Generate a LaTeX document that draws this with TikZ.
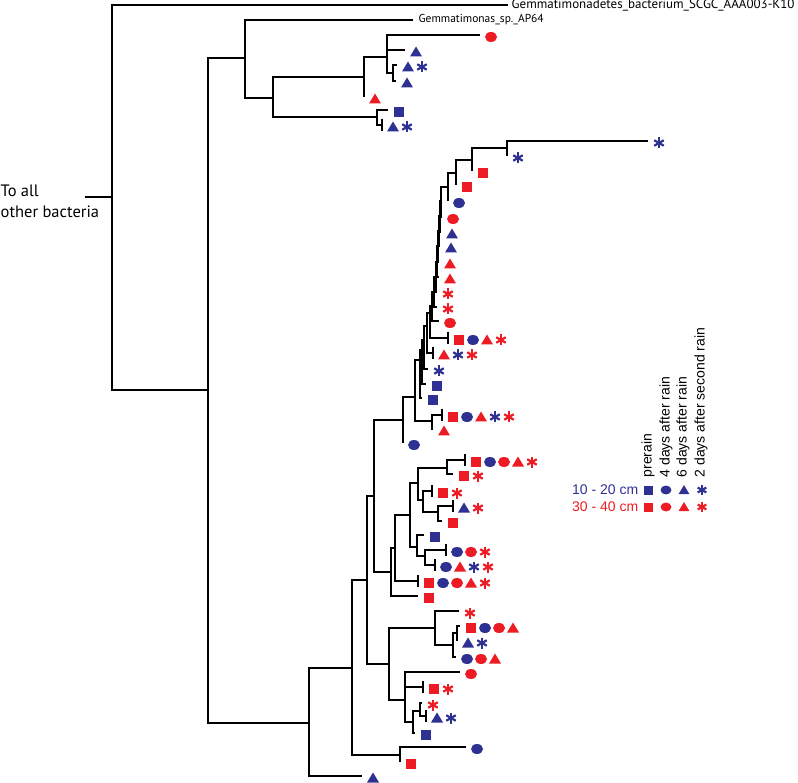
\documentclass[tikz,border=0pt]{standalone}
\usepackage{fontspec}
\setmainfont{PT Sans}
\newfontfamily\legfont{Liberation Sans}
\usepackage{tikz}
\definecolor{bl}{RGB}{46,49,146}
\definecolor{rd}{RGB}{237,28,36}
\tikzstyle{branch}=[line width=1.4pt, black]
\tikzstyle{lab}=[inner sep=0, anchor=west]
\tikzstyle{leg}=[inner sep=0, font=\legfont\fontsize{14}{16}\selectfont]
% sample marks
\newcommand\mksq[1]{\fill[#1] (-5,-5) rectangle (5,5);}
\newcommand\mkci[1]{\fill[#1] (0,0) ellipse (6pt and 5pt);}
\newcommand\mktr[1]{\fill[#1] (0,-5.5) -- (6,4.5) -- (-6,4.5) -- cycle;}
\newcommand\mkst[1]{\foreach \a in {90,30,150}{\draw[#1,line width=2.2pt] (\a:5.5pt) -- (\a+180:5.5pt);}}
% leaf end with its marks
\newcommand\leaf[4]{\coordinate (#1) at (#2,#3);
  \foreach \sh/\cl [count=\i from 0] in {#4}
    {\begin{scope}[shift={(#2+11+14*\i,#3+2)}]\csname mk\sh\endcsname{\cl}\end{scope}}}
\newcommand\tick[4]{\leaf{#1}{#2}{#3}{#4}\draw (#2,#3-6) -- (#2,#3+6);}

\begin{document}
\begin{tikzpicture}[x=1pt,y=-1pt,branch]
\useasboundingbox (0,0) rectangle (798,783);
\node[inner sep=0,anchor=west,align=left,font=\fontsize{16.5}{21}\selectfont] (out) at (0,201) {To all\\other bacteria};
\coordinate (stub) at (85,197);
\coordinate (R) at (112,197);
\coordinate (k10) at (508,5);
\node[lab,font=\fontsize{13}{15}\selectfont] (k10lab) at (511,5) {Gemmatimonadetes\_bacterium\_SCGC\_AAA003-K10};
\coordinate (A) at (208,390);
\coordinate (B) at (245,58);
\coordinate (ap64) at (413,20);
\node[lab,font=\fontsize{11.5}{13}\selectfont] (ap64lab) at (418,20) {Gemmatimonas\_sp.\_AP64};
\coordinate (D) at (273,98);
\coordinate (E) at (364,77);
\coordinate (G) at (387,57);
\coordinate (H) at (393,73);
\coordinate (F) at (377,117);
\leaf{g1}{480}{35}{ci/rd}
\leaf{g2}{405}{50}{tr/bl}
\leaf{h1}{397}{65}{tr/bl,st/bl}
\leaf{h2}{396}{81}{tr/bl}
\leaf{e2}{364}{97}{tr/rd}
\leaf{f1}{388}{110}{sq/bl}
\tick{I}{382}{125}{tr/bl,st/bl}
% lower clade
\coordinate (C) at (309,723);
\coordinate (J) at (352,668);
\coordinate (L) at (400,755);
\coordinate (K) at (367,580);
\coordinate (N) at (389,664);
\coordinate (O) at (435,628);
\coordinate (Q) at (453,645);
\coordinate (Q1) at (457,633);
\coordinate (P) at (405,700);
\coordinate (P2) at (413,722);
\coordinate (P3) at (420,711);
\leaf{c2}{362}{776}{tr/bl}
\leaf{l1}{466}{747}{ci/bl}
\leaf{l2}{400}{762}{sq/rd}
\leaf{o1}{459}{611}{st/rd}
\leaf{q1}{460}{626}{sq/rd,ci/bl,ci/rd,tr/rd}
\leaf{q2}{457}{641}{tr/bl,st/bl}
\leaf{q3}{456}{657}{ci/bl,ci/rd,tr/rd}
\leaf{p1}{460}{672}{ci/rd}
\tick{t1}{423}{687}{sq/rd,st/rd}
\leaf{p3a}{422}{703}{st/rd}
\tick{t2}{426}{716}{tr/bl,st/bl}
\leaf{p2b}{415}{733}{sq/bl}
% middle clade
\coordinate (M) at (374,496);
\coordinate (U) at (403,420);
\coordinate (W) at (415,397);
\coordinate (Y) at (432,421);
\leaf{u2}{403}{443}{ci/bl}
\tick{t3}{442}{415}{sq/rd,ci/bl,tr/rd,st/bl,st/rd}
\leaf{y2}{433}{429}{tr/rd}
\coordinate (cb1) at (507,148);
\coordinate (cb2) at (472,160);
\coordinate (cb3) at (456,173);
\coordinate (cb4) at (448,187);
\coordinate (cb5) at (441,201);
\coordinate (cb6) at (440,216);
\coordinate (cb7) at (439,231);
\coordinate (cb8) at (438,246);
\coordinate (cb9) at (437,262);
\coordinate (cb10) at (436,277);
\coordinate (cb11) at (434,292);
\coordinate (cb12) at (432,306);
\coordinate (cb13) at (430,313);
\coordinate (cb14) at (427,326);
\coordinate (cb15) at (424,340);
\coordinate (cb16) at (422,350);
\coordinate (cb17) at (420,360);
\leaf{s1}{648}{141}{st/bl}
\leaf{s2}{507}{156}{st/bl}
\leaf{s3}{472}{171}{sq/rd}
\leaf{s4}{456}{185}{sq/rd}
\leaf{s5}{448}{201}{ci/bl}
\leaf{s6}{442}{217}{ci/rd}
\leaf{s7}{441}{232}{tr/bl}
\leaf{s8}{440}{246}{tr/bl}
\leaf{s9}{439}{262}{tr/rd}
\leaf{s10}{439}{277}{tr/rd}
\leaf{s11}{437}{292}{st/rd}
\leaf{s12}{437}{307}{st/rd}
\leaf{s13}{439}{321}{ci/rd}
\tick{t5}{448}{338}{sq/rd,ci/bl,tr/rd,st/rd}
\tick{t4}{433}{353}{tr/rd,st/bl,st/rd}
\leaf{s14}{428}{369}{st/bl}
\leaf{s15}{426}{384}{sq/bl}
\leaf{s16}{422}{398}{sq/bl}
\coordinate (V) at (391,572);
\coordinate (V1) at (395,548);
\coordinate (a0) at (410,515);
\coordinate (a1) at (447,468);
\coordinate (a2) at (418,483);
\coordinate (a3) at (423,500);
\coordinate (a4) at (438,512);
\coordinate (a5) at (417,547);
\coordinate (a6) at (425,556);
\leaf{v2}{418}{596}{sq/rd}
\tick{t6}{418}{581}{sq/rd,ci/bl,ci/rd,tr/rd,st/rd}
\tick{ta}{465}{460}{sq/rd,ci/bl,ci/rd,tr/rd,st/rd}
\leaf{a1b}{453}{474}{sq/rd,st/rd}
\tick{tb}{432}{491}{sq/rd,st/rd}
\tick{tc}{453}{506}{tr/bl,st/rd}
\leaf{a4b}{442}{521}{sq/rd}
\leaf{a5a}{424}{535}{sq/bl}
\tick{td}{446}{550}{ci/bl,ci/rd,st/rd}
\tick{te}{435}{565}{ci/bl,tr/rd,st/bl,st/rd}
% branches
\draw (stub) -- (R);
\draw (k10) -| (R) |- (A);
\draw (B) -| (A) |- (C);
\draw (ap64) -| (B) |- (D);
\draw (E) -| (D) |- (F);
\draw (G) -| (E) |- (e2);
\draw (g1) -| (G) |- (H); \draw (G) |- (g2);
\draw (h1) -| (H) |- (h2);
\draw (f1) -| (F) |- (I);
\draw (J) -| (C) |- (c2);
\draw (K) -| (J) |- (L);
\draw (l1) -| (L) |- (l2);
\draw (M) -| (K) |- (N);
\draw (O) -| (N) |- (P);
\draw (o1) -| (O) |- (Q);
\draw (Q1) -| (Q) |- (q3);
\draw (q1) -| (Q1) |- (q2);
\draw (p1) -| (P) |- (P2); \draw (P) |- (t1);
\draw (P3) -| (P2) |- (p2b);
\draw (p3a) -| (P3) |- (t2);
\draw (U) -| (M) |- (V);
\draw (W) -| (U) |- (u2);
\draw (cb17) -| (W) |- (Y);
\draw (t3) -| (Y) |- (y2);
\draw (s1) -| (cb1) |- (s2);
\foreach \p/\q/\r in {cb2/cb1/s3,cb3/cb2/s4,cb4/cb3/s5,cb5/cb4/s6,cb6/cb5/s7,cb7/cb6/s8,
  cb8/cb7/s9,cb9/cb8/s10,cb10/cb9/s11,cb11/cb10/s12,cb12/cb11/s13,cb13/cb12/t5,
  cb14/cb13/t4,cb15/cb14/s14,cb16/cb15/s15,cb17/cb16/s16}
  \draw (\q) -| (\p) |- (\r);
\draw (V1) -| (V) |- (v2);
\draw (a0) -| (V1) |- (t6);
\draw (a2) -| (a0) |- (a5);
\draw (a1) -| (a2) |- (a3);
\draw (ta) -| (a1) |- (a1b);
\draw (tb) -| (a3) |- (a4);
\draw (tc) -| (a4) |- (a4b);
\draw (a5a) -| (a5) |- (a6);
\draw (td) -| (a6) |- (te);
% legend
\node[leg,rotate=90,anchor=west] (pre) at (648,478) {prerain};
\node[leg,rotate=90,anchor=west] (four) at (666,478) {4 days after rain};
\node[leg,rotate=90,anchor=west] (six) at (683,478) {6 days after rain};
\node[leg,rotate=90,anchor=west] (two) at (701,478) {2 days after second rain};
\node[leg,anchor=east,text=bl] (top) at (639,490) {10 - 20 cm};
\node[leg,anchor=east,text=rd] (deep) at (639,507) {30 - 40 cm};
\foreach \sh/\xx in {sq/648,ci/666,tr/684,st/702}{
  \begin{scope}[shift={(\xx,490)},scale=0.9]\csname mk\sh\endcsname{bl}\end{scope}
  \begin{scope}[shift={(\xx,507)},scale=0.9]\csname mk\sh\endcsname{rd}\end{scope}}
\end{tikzpicture}
\end{document}
